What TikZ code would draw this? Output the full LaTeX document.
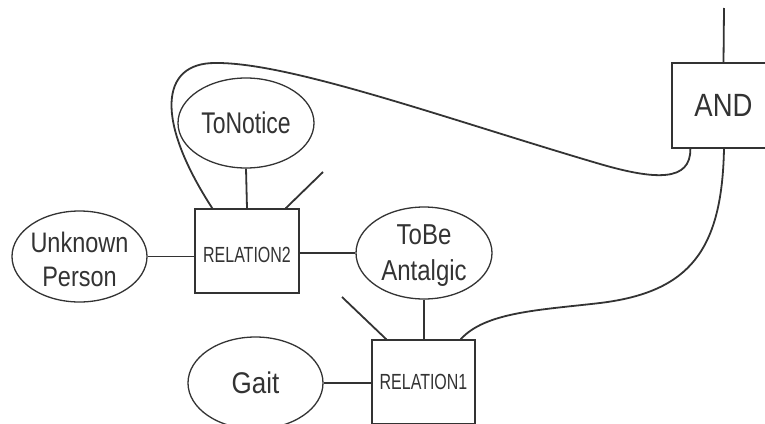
\documentclass[tikz,border=0pt]{standalone}
\usepackage{fontspec}
\setmainfont{Liberation Sans}
\usetikzlibrary{shapes.geometric,calc}
\definecolor{ink}{HTML}{333333}
\tikzset{
  conn/.style={draw=ink, line width=1.8pt},
  ell/.style={ellipse, draw=ink, line width=1.3pt, fill=white, inner sep=0pt, text=ink},
  boxnode/.style={rectangle, draw=ink, line width=1.3pt, fill=white, inner sep=0pt, text=ink},
  lbl/.style={text=ink, inner sep=0pt},
}
\begin{document}
\begin{tikzpicture}[x=1pt,y=-1pt]
\useasboundingbox (0,0) rectangle (765,423);
\coordinate (andtop) at (724,8);
\coordinate (r2free) at (323,172);
\coordinate (r1free) at (342,297);
\node[boxnode, minimum width=103pt, minimum height=85pt] (AND) at (723.5,105.5)
  {\scalebox{1}[1.17]{\fontsize{27.5}{30}\selectfont AND}};
\node[boxnode, minimum width=104pt, minimum height=84pt,
  label={[lbl,yshift=-4pt]center:\scalebox{1}[1.37]{\fontsize{16}{18}\selectfont RELATION2}}] (R2) at (247,251) {};
\node[boxnode, minimum width=103pt, minimum height=84pt] (R1) at (423.5,382)
  {\scalebox{1}[1.37]{\fontsize{16}{18}\selectfont RELATION1}};
\node[ell, minimum width=136pt, minimum height=90pt] (TN) at (246,123)
  {\scalebox{1}[1.3]{\fontsize{23}{27}\selectfont ToNotice}};
\node[ell, minimum width=135pt, minimum height=91pt,
  label={[lbl,yshift=-6pt]center:\scalebox{1}[1.2]{\fontsize{23.5}{28}\selectfont\begin{tabular}{@{}c@{}}Unknown\\Person\end{tabular}}}] (UP) at (79.5,256.5) {};
\node[ell, minimum width=136pt, minimum height=92pt,
  label={[lbl,yshift=-2pt]center:\scalebox{1}[1.2]{\fontsize{24}{30}\selectfont\begin{tabular}{@{}c@{}}ToBe\\Antalgic\end{tabular}}}] (TB) at (424,253) {};
\node[ell, minimum width=135pt, minimum height=92pt] (GA) at (255.5,383)
  {\scalebox{1}[1.15]{\fontsize{26}{30}\selectfont Gait}};
% connectors
\draw[conn] (AND.north) -- (andtop);
\draw[conn] ($(AND.south west)+(19,0)$) .. controls (691,182) and (655,180) .. (600,164)
  .. controls (450,120) and (290,62) .. (215,63)
  .. controls (160,63) and (155,120) .. ($(R2.north west)+(18,0)$);
\draw[conn] ($(R1.north east)+(-15,0)$) .. controls (485,312) and (540,310) .. (600,303)
  .. controls (690,292) and (722,250) .. ($(AND.south)+(0.5,0)$);
\draw[conn] (R2.north) -- (TN.south);
\draw[conn] ($(R2.north east)+(-14,0)$) -- (r2free);
\draw[conn] (UP.east) -- (UP.east -| R2.west);
\draw[conn] (R2.east |- TB.west) -- (TB.west);
\draw[conn] (TB.south) -- (TB.south |- R1.north);
\draw[conn] ($(R1.north west)+(15,0)$) -- (r1free);
\draw[conn] (GA.east) -- (GA.east -| R1.west);
\end{tikzpicture}
\end{document}
